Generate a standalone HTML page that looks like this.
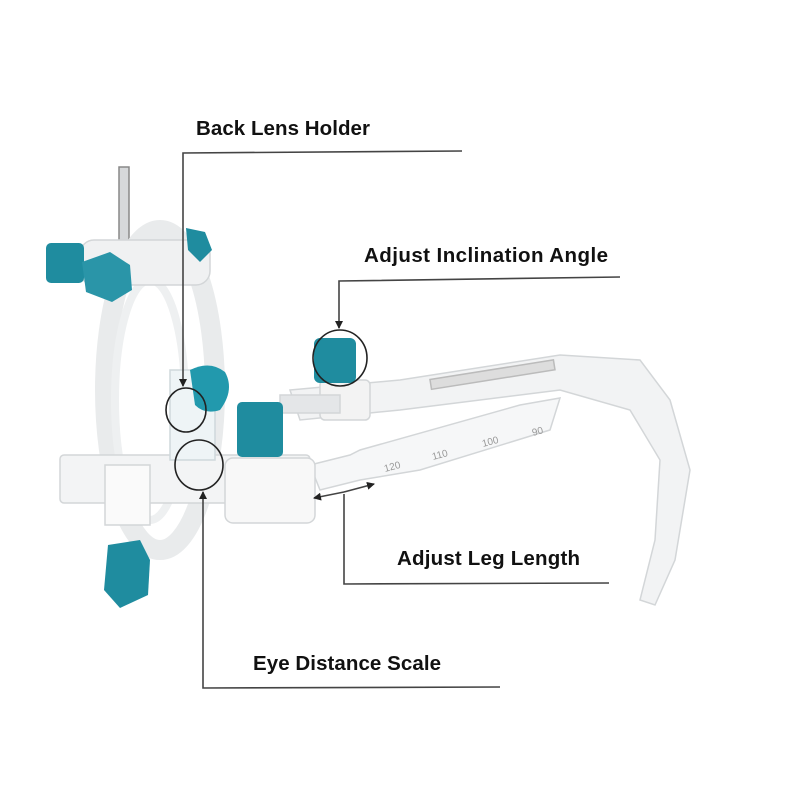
<!DOCTYPE html>
<html><head><meta charset="utf-8"><style>
html,body{margin:0;padding:0;background:#fff;width:800px;height:800px;overflow:hidden}
svg{display:block}
text{font-family:"Liberation Sans",sans-serif;font-weight:bold;fill:#111;font-size:20.5px}
</style></head><body>
<svg width="800" height="800" viewBox="0 0 800 800" xmlns="http://www.w3.org/2000/svg">
<defs>
<marker id="ah" markerWidth="8" markerHeight="8" refX="7" refY="4" orient="auto" markerUnits="userSpaceOnUse">
<path d="M0,0 L8,4 L0,8 z" fill="#222"/></marker>
</defs>
<rect width="800" height="800" fill="#fff"/>
<g stroke="#d3d6d8" stroke-width="1.5" fill="#f4f5f6">
<rect x="119" y="167" width="10" height="75" fill="#d6d8da" stroke="#888"/>
<ellipse cx="160" cy="390" rx="55" ry="160" fill="none" stroke="#e9ebec" stroke-width="20"/>
<ellipse cx="150" cy="400" rx="35" ry="120" fill="none" stroke="#eef0f1" stroke-width="8"/>
<rect x="80" y="240" width="130" height="45" rx="14" fill="#f0f1f2"/>
<path d="M290 390 L400 380 L560 355 L640 360 L670 400 L690 470 L675 560 L655 605 L640 600 L655 540 L660 460 L630 410 L560 390 L400 410 L300 420 z" fill="#f2f3f4"/>
<path d="M310 465 L350 455 L360 450 L520 405 L560 398 L550 430 L420 470 L360 480 L320 490 z" fill="#f6f7f8"/>
<rect x="430" y="370" width="125" height="10" fill="#ddd" stroke="#bbb" transform="rotate(-9 490 375)"/>
<rect x="60" y="455" width="250" height="48" rx="4" fill="#f3f4f5"/>
<rect x="105" y="465" width="45" height="60" fill="#fafafa"/>
<rect x="225" y="458" width="90" height="65" rx="8" fill="#f8f8f8"/>
<rect x="320" y="380" width="50" height="40" rx="5" fill="#f3f3f3"/>
<rect x="280" y="395" width="60" height="18" fill="#e4e6e8"/>
<rect x="170" y="370" width="45" height="90" fill="#eef4f6" stroke="#cfd8dc"/>
</g>
<g>
<text x="385" y="472" style="font-size:10px;font-weight:normal;fill:#999" transform="rotate(-15 385 472)">120</text>
<text x="433" y="460" style="font-size:10px;font-weight:normal;fill:#999" transform="rotate(-15 433 460)">110</text>
<text x="483" y="447" style="font-size:10px;font-weight:normal;fill:#999" transform="rotate(-15 483 447)">100</text>
<text x="533" y="436" style="font-size:10px;font-weight:normal;fill:#999" transform="rotate(-15 533 436)">90</text>
</g>
<g fill="#1f8c9f">
<rect x="46" y="243" width="38" height="40" rx="5"/>
<path d="M82 262 L110 252 L130 265 L132 290 L112 302 L86 292 z" fill="#2a95a8"/>
<path d="M186 228 L205 232 L212 250 L200 262 L188 250 z"/>
<path d="M190 370 Q210 360 225 372 Q235 390 220 410 Q205 415 195 405 z" fill="#2299ad"/>
<rect x="237" y="402" width="46" height="55" rx="5"/>
<rect x="314" y="338" width="42" height="45" rx="6"/>
<path d="M108 545 L140 540 L150 560 L148 595 L120 608 L104 590 z"/>
</g>
<g fill="none" stroke="#222" stroke-width="1.6">
<ellipse cx="186" cy="410" rx="20" ry="22"/>
<ellipse cx="340" cy="358" rx="27" ry="28"/>
<ellipse cx="199" cy="465" rx="24" ry="25"/>
</g>
<g stroke="#444" stroke-width="1.6" fill="none">
<polyline points="462,151 183,153 183,386" marker-end="url(#ah)"/>
<polyline points="620,277 339,281 339,328" marker-end="url(#ah)"/>
<polyline points="609,583 344,584 344,494"/>
<polyline points="500,687 203,688 203,492" marker-end="url(#ah)"/>
<line x1="344" y1="492" x2="314" y2="498" marker-end="url(#ah)"/>
<line x1="344" y1="492" x2="374" y2="484" marker-end="url(#ah)"/>
</g>
<text x="196" y="135" textLength="174">Back Lens Holder</text>
<text x="364" y="262" textLength="244">Adjust Inclination Angle</text>
<text x="397" y="565" textLength="183">Adjust Leg Length</text>
<text x="253" y="670" textLength="188">Eye Distance Scale</text>
</svg>
</body></html>
